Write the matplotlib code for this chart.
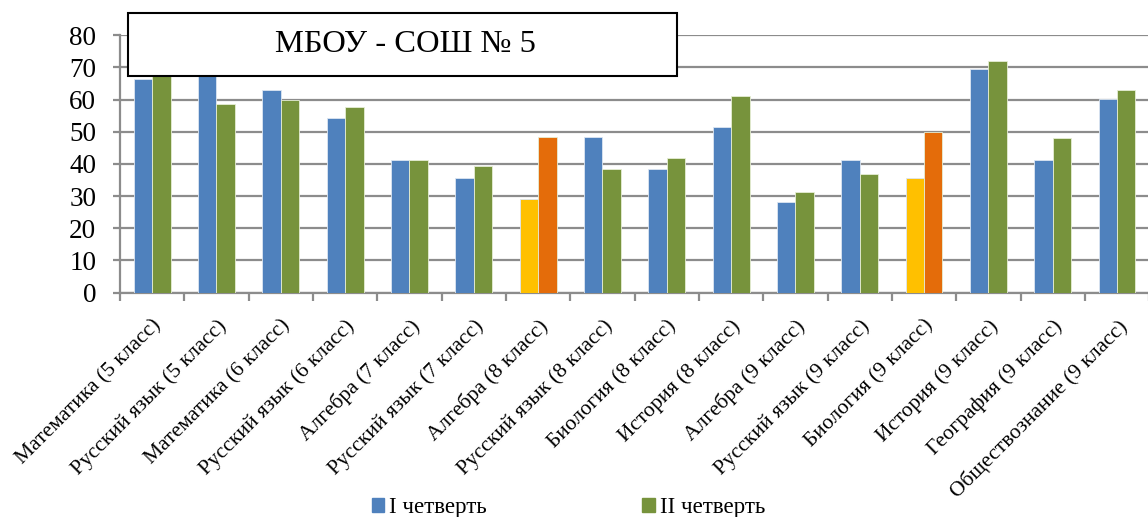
import numpy as np
import matplotlib.pyplot as plt
from matplotlib.patches import Rectangle, Patch

categories = [
    'Математика (5 класс)', 'Русский язык (5 класс)', 'Математика (6 класс)',
    'Русский язык (6 класс)', 'Алгебра (7 класс)', 'Русский язык (7 класс)',
    'Алгебра (8 класс)', 'Русский язык (8 класс)', 'Биология (8 класс)',
    'История (8 класс)', 'Алгебра (9 класс)', 'Русский язык (9 класс)',
    'Биология (9 класс)', 'История (9 класс)', 'География (9 класс)',
    'Обществознание (9 класс)',
]
q1 = [66.4, 68.0, 62.9, 54.3, 41.1, 35.6, 29.1, 48.2, 38.5, 51.5,
      28.2, 41.3, 35.6, 69.6, 41.3, 60.3]
q2 = [68.0, 58.6, 60.0, 57.7, 41.3, 39.4, 48.4, 38.5, 41.7, 61.1,
      31.4, 36.9, 49.9, 72.0, 47.9, 62.9]
series_names = ['I четверть', 'II четверть']
highlight = [6, 12]

blue, green = '#4F81BD', '#77933C'
yellow, orange = '#FFC000', '#E46C0A'
grid_c = '#8C8C8C'

plt.rcParams['font.family'] = ['Liberation Serif', 'DejaVu Serif']

fig = plt.figure(figsize=(11.48, 5.17), dpi=100)
ax = fig.add_axes([0.1045, 0.434, 0.8965, 0.498])

x = np.arange(len(categories))
w = 0.287
c1 = [yellow if i in highlight else blue for i in x]
c2 = [orange if i in highlight else green for i in x]
ax.bar(x - w / 2, q1, w, color=c1, edgecolor='#dce6f2', linewidth=0.6, zorder=3)
ax.bar(x + w / 2, q2, w, color=c2, edgecolor='#e6eed5', linewidth=0.6, zorder=3)

ax.set_xlim(-0.5, len(categories) - 0.5)
ax.set_ylim(0, 80)
ax.set_yticks(range(0, 81, 10))
ax.yaxis.grid(True, color=grid_c, linewidth=1.6, zorder=0)
ax.set_axisbelow(True)

for s in ['top', 'right']:
    ax.spines[s].set_visible(False)
for s in ['left', 'bottom']:
    ax.spines[s].set_color(grid_c)
    ax.spines[s].set_linewidth(1.6)

ax.tick_params(axis='y', length=5, width=1.6, color=grid_c, labelsize=19.5, pad=12)
ax.set_xticks(x)
ax.set_xticklabels(categories, rotation=45, ha='right', va='top',
                   rotation_mode='anchor', fontsize=15.5)
ax.tick_params(axis='x', length=0, pad=17)
ax.set_xticks(np.arange(-0.5, len(categories), 1), minor=True)
ax.tick_params(axis='x', which='minor', length=6, width=1.6, color=grid_c)

# рамка с заголовком
fig.patches.append(Rectangle((128 / 1148, 1 - 76 / 517), 549 / 1148, 63 / 517,
                             transform=fig.transFigure, facecolor='white',
                             edgecolor='black', linewidth=1.5, zorder=10))
fig.text(405 / 1148, 1 - 45 / 517, 'МБОУ - СОШ № 5', fontsize=23.4,
         ha='center', va='center', zorder=11)

handles = [Patch(color=blue), Patch(color=green)]
fig.legend(handles, series_names, loc='center', bbox_to_anchor=(0.495, 0.018),
           ncol=2, frameon=False, fontsize=16.5, handlelength=0.55, handleheight=0.55,
           handletextpad=0.2, columnspacing=6.8)

fig.savefig('out.png', dpi=100)
